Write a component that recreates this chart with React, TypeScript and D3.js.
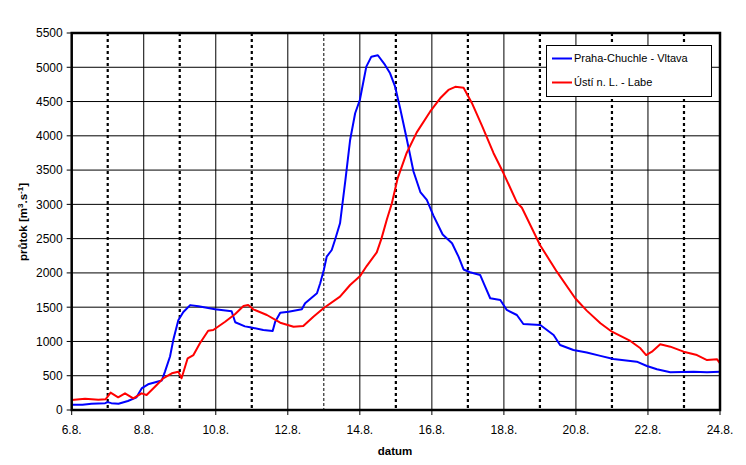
import React from 'react';
import * as d3 from 'd3';

// Praha-Chuchle - Vltava (day of August, m3/s)
const prahaDays = [6.0, 6.3, 6.55, 6.93, 7.0, 7.1, 7.3, 7.56, 7.8, 7.95, 8.12, 8.5, 8.59, 8.73, 8.82, 8.96, 9.1, 9.29, 9.52, 9.98, 10.44, 10.54, 10.81, 10.95, 11.32, 11.58, 11.65, 11.79, 12.02, 12.39, 12.48, 12.81, 12.9, 13.0, 13.08, 13.22, 13.31, 13.45, 13.6, 13.73, 13.87, 14.0, 14.18, 14.32, 14.5, 14.7, 14.84, 14.98, 15.12, 15.3, 15.49, 15.68, 15.86, 16.04, 16.3, 16.56, 16.74, 16.88, 17.06, 17.34, 17.48, 17.62, 17.9, 18.08, 18.36, 18.54, 19.01, 19.38, 19.56, 19.93, 20.3, 20.68, 21.04, 21.69, 21.97, 22.25, 22.62, 23.27, 23.64, 24.0];
const prahaFlow = [75, 75, 92, 100, 115, 100, 92, 131, 185, 320, 375, 430, 560, 780, 1020, 1310, 1430, 1530, 1515, 1470, 1440, 1280, 1220, 1207, 1167, 1153, 1288, 1420, 1434, 1469, 1556, 1703, 1849, 2043, 2237, 2334, 2480, 2724, 3356, 3939, 4329, 4523, 5009, 5155, 5175, 5034, 4912, 4717, 4400, 3960, 3480, 3180, 3064, 2840, 2560, 2432, 2237, 2050, 2010, 1970, 1800, 1630, 1605, 1460, 1386, 1255, 1240, 1094, 948, 875, 840, 790, 744, 705, 642, 594, 550, 559, 550, 559];

// Ústí n. L. - Labe
const ustiDays = [6.0, 6.37, 6.74, 6.94, 7.08, 7.29, 7.48, 7.71, 7.94, 8.08, 8.36, 8.54, 8.78, 8.96, 9.05, 9.22, 9.38, 9.56, 9.79, 9.93, 10.26, 10.54, 10.77, 10.9, 11.04, 11.42, 11.79, 12.16, 12.43, 12.71, 12.99, 13.45, 13.73, 14.0, 14.19, 14.47, 14.6, 14.75, 14.89, 15.05, 15.3, 15.58, 15.95, 16.23, 16.46, 16.65, 16.88, 17.11, 17.39, 17.71, 17.99, 18.36, 18.5, 19.01, 19.47, 19.98, 20.3, 20.68, 21.0, 21.51, 21.79, 21.95, 22.11, 22.34, 22.62, 22.99, 23.36, 23.64, 23.92, 24.0];
const ustiFlow = [146, 165, 150, 156, 253, 185, 243, 170, 243, 219, 365, 462, 535, 559, 462, 754, 802, 973, 1157, 1167, 1288, 1400, 1517, 1532, 1469, 1386, 1274, 1215, 1225, 1361, 1484, 1653, 1824, 1950, 2100, 2300, 2500, 2780, 3016, 3380, 3750, 4050, 4352, 4547, 4669, 4715, 4700, 4480, 4150, 3750, 3453, 3030, 2950, 2400, 2018, 1630, 1450, 1265, 1142, 1007, 900, 802, 851, 958, 924, 851, 802, 729, 739, 681];

const dayTicks = [6, 8, 10, 12, 14, 16, 18, 20, 22, 24];
const dottedDays = [7, 9, 11, 13, 15, 17, 19, 21, 23];
const flowTicks = [0, 500, 1000, 1500, 2000, 2500, 3000, 3500, 4000, 4500, 5000, 5500];
const seriesNames = ['Praha-Chuchle - Vltava', 'Ústí n. L. - Labe'];
const seriesColors = ['#0000ff', '#ff0000'];

const W = 746, H = 465;
const left = 71.7, right = 720, top = 33, bottom = 410;
const font = '"Liberation Sans", Arial, sans-serif';

export default function App() {
  const x = d3.scaleLinear().domain([6, 24]).range([left, right]);
  const y = d3.scaleLinear().domain([0, 5500]).range([bottom, top]);
  const line = d3.line<[number, number]>().x(d => x(d[0])).y(d => y(d[1]));
  const praha = prahaDays.map((d, i) => [d, prahaFlow[i]] as [number, number]);
  const usti = ustiDays.map((d, i) => [d, ustiFlow[i]] as [number, number]);

  return (
    <svg width={W} height={H} style={{ position: 'absolute', left: 0, top: 0 }} fontFamily={font}>
      <rect width={W} height={H} fill="#fff" />
      {/* horizontal grid */}
      {flowTicks.slice(1, -1).map(v => (
        <line key={v} x1={left} x2={right} y1={y(v)} y2={y(v)} stroke="#000" strokeWidth={1} />
      ))}
      {/* vertical grid */}
      {dayTicks.slice(1, -1).map(d => (
        <line key={d} x1={x(d)} x2={x(d)} y1={top} y2={bottom} stroke="#000" strokeWidth={1} />
      ))}
      {dottedDays.map(d => (
        <line key={'d' + d} x1={x(d)} x2={x(d)} y1={top} y2={bottom} stroke="#000"
          strokeWidth={d === 13 ? 1 : 2.2} strokeDasharray={d === 13 ? '3,2' : '3,3'} />
      ))}
      {/* series */}
      <path d={line(praha) || ''} fill="none" stroke={seriesColors[0]} strokeWidth={2} strokeLinejoin="round" />
      <path d={line(usti) || ''} fill="none" stroke={seriesColors[1]} strokeWidth={2} strokeLinejoin="round" />
      {/* frame */}
      <rect x={left} y={top} width={right - left} height={bottom - top} fill="none" stroke="#000" strokeWidth={2.5} />
      {/* y axis ticks */}
      {flowTicks.map(v => (
        <g key={v}>
          <line x1={left - 5} x2={left} y1={y(v)} y2={y(v)} stroke="#000" strokeWidth={1} />
          <text x={left - 9} y={y(v)} dy="0.36em" textAnchor="end" fontSize={12} fill="#000">{v}</text>
        </g>
      ))}
      {/* x axis ticks */}
      {dayTicks.map(d => (
        <g key={d}>
          <line x1={x(d)} x2={x(d)} y1={bottom} y2={bottom + 5} stroke="#000" strokeWidth={1} />
          <text x={x(d)} y={bottom + 24} textAnchor="middle" fontSize={12} fill="#000">{`${d}.8.`}</text>
        </g>
      ))}
      <text x={395} y={455} textAnchor="middle" fontSize={11.5} fontWeight="bold" fill="#000">datum</text>
      <text transform={`translate(27, 222) rotate(-90)`} textAnchor="middle" fontSize={11.5} fontWeight="bold" fill="#000">
        průtok [m<tspan dy={-4} fontSize={8}>3</tspan><tspan dy={4}>.s</tspan><tspan dy={-4} fontSize={8}>-1</tspan><tspan dy={4}>]</tspan>
      </text>
      {/* legend */}
      <g>
        <rect x={546.5} y={45.5} width={165} height={51} fill="#fff" stroke="#000" strokeWidth={1} />
        {seriesNames.map((n, i) => (
          <g key={n}>
            <line x1={552} x2={572} y1={58.5 + i * 24} y2={58.5 + i * 24} stroke={seriesColors[i]} strokeWidth={2} />
            <text x={574} y={58.5 + i * 24} dy="0.35em" fontSize={11} fill="#000">{n}</text>
          </g>
        ))}
      </g>
    </svg>
  );
}
